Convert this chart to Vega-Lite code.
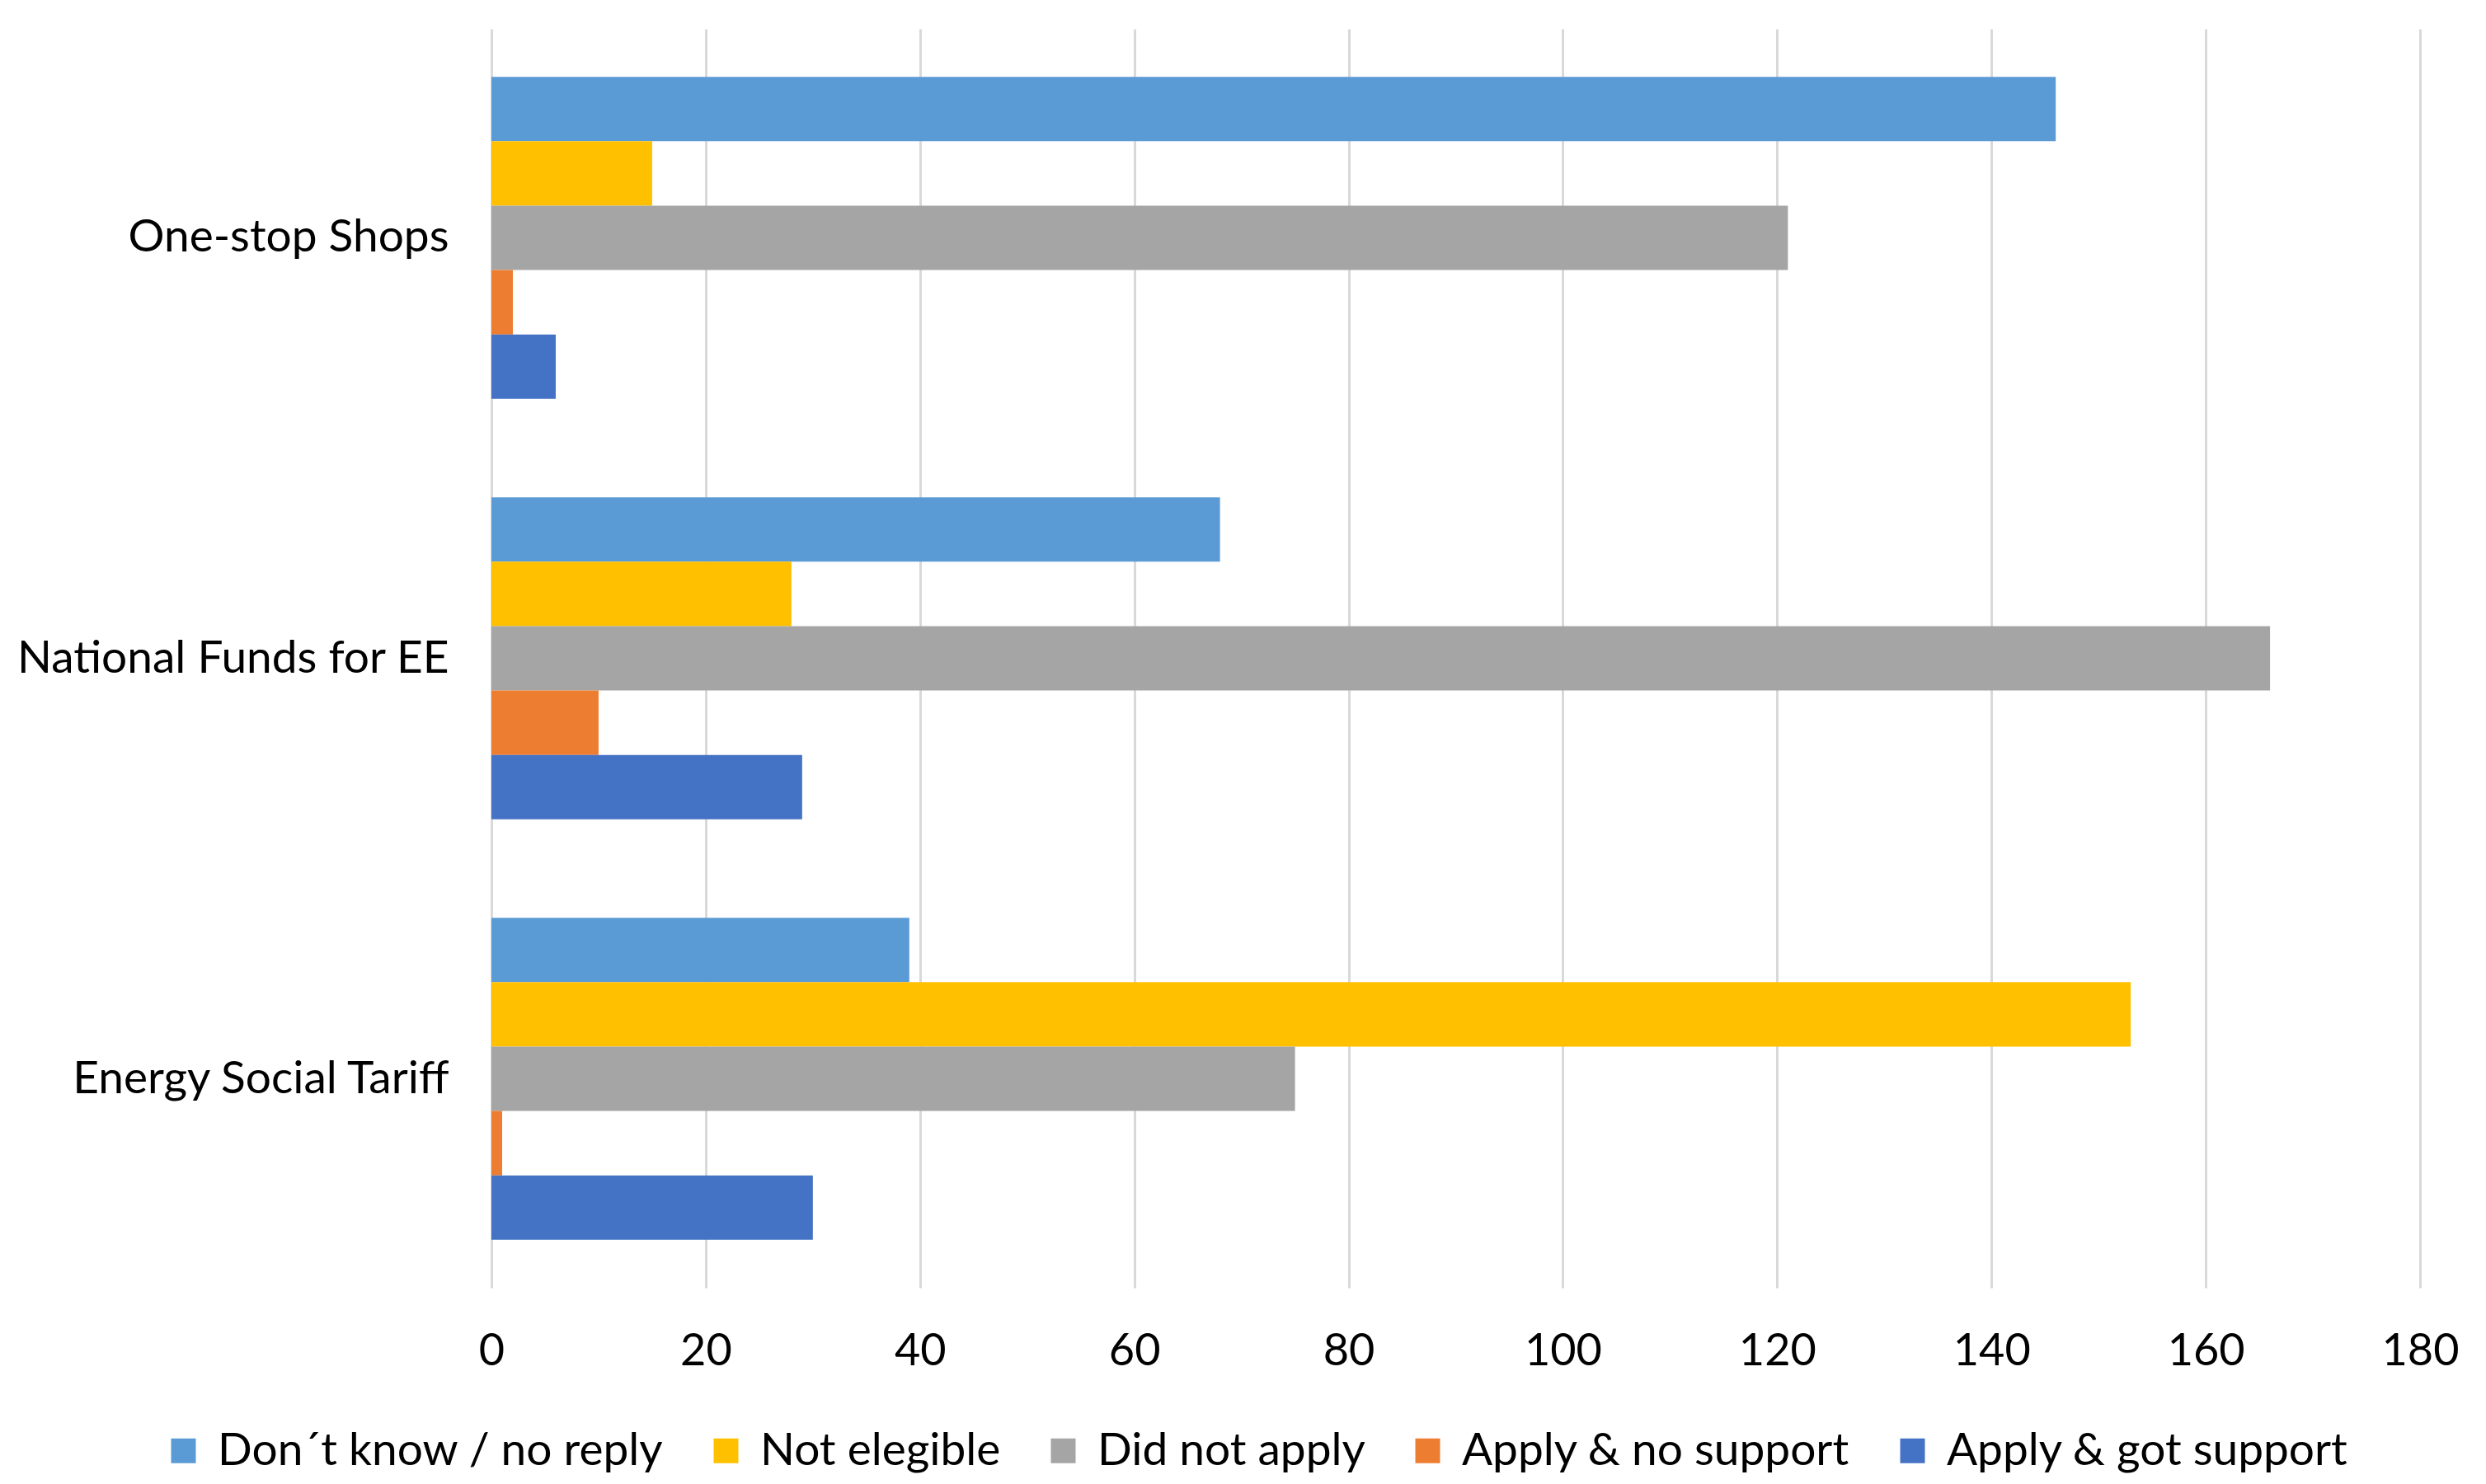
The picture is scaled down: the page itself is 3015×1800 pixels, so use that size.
{
  "$schema": "https://vega.github.io/schema/vega-lite/v6.json",
  "autosize": {"type": "none"},
  "width": 2339,
  "height": 1527,
  "padding": {"left": 596, "top": 35, "right": 80, "bottom": 238},
  "background": "white",
  "config": {
    "view": {"stroke": null},
    "font": "Lato",
    "axis": {"labelFont": "Lato", "labelColor": "#000000"},
    "legend": {"labelFont": "Lato", "labelColor": "#000000"}
  },
  "data": {
    "values": [
      {"program": "One-stop Shops", "series": "Don´t know / no reply", "value": 146},
      {"program": "One-stop Shops", "series": "Not elegible", "value": 15},
      {"program": "One-stop Shops", "series": "Did not apply", "value": 121},
      {"program": "One-stop Shops", "series": "Apply & no support", "value": 2},
      {"program": "One-stop Shops", "series": "Apply & got support", "value": 6},
      {"program": "National Funds for EE", "series": "Don´t know / no reply", "value": 68},
      {"program": "National Funds for EE", "series": "Not elegible", "value": 28},
      {"program": "National Funds for EE", "series": "Did not apply", "value": 166},
      {"program": "National Funds for EE", "series": "Apply & no support", "value": 10},
      {"program": "National Funds for EE", "series": "Apply & got support", "value": 29},
      {"program": "Energy Social Tariff", "series": "Don´t know / no reply", "value": 39},
      {"program": "Energy Social Tariff", "series": "Not elegible", "value": 153},
      {"program": "Energy Social Tariff", "series": "Did not apply", "value": 75},
      {"program": "Energy Social Tariff", "series": "Apply & no support", "value": 1},
      {"program": "Energy Social Tariff", "series": "Apply & got support", "value": 30}
    ]
  },
  "mark": {"type": "bar"},
  "encoding": {
    "y": {
      "field": "program",
      "type": "nominal",
      "sort": ["One-stop Shops", "National Funds for EE", "Energy Social Tariff"],
      "scale": {"paddingInner": 0.234, "paddingOuter": 0.114},
      "axis": {
        "title": null,
        "ticks": false,
        "domain": false,
        "grid": false,
        "labelFontSize": 55,
        "labelPadding": 52,
        "labelLimit": 800
      }
    },
    "yOffset": {
      "field": "series",
      "type": "nominal",
      "sort": ["Don´t know / no reply", "Not elegible", "Did not apply", "Apply & no support", "Apply & got support"],
      "scale": {"paddingInner": 0, "paddingOuter": 0}
    },
    "x": {
      "field": "value",
      "type": "quantitative",
      "scale": {"domain": [0, 180], "nice": false},
      "axis": {
        "title": null,
        "values": [0, 20, 40, 60, 80, 100, 120, 140, 160, 180],
        "ticks": false,
        "domain": false,
        "grid": true,
        "gridColor": "#D9D9D9",
        "gridWidth": 3,
        "labelFontSize": 54,
        "labelPadding": 50,
        "labelFlush": false
      }
    },
    "color": {
      "field": "series",
      "type": "nominal",
      "scale": {
        "domain": ["Don´t know / no reply", "Not elegible", "Did not apply", "Apply & no support", "Apply & got support"],
        "range": ["#5B9BD5", "#FFC000", "#A5A5A5", "#ED7D31", "#4472C4"]
      },
      "legend": {
        "title": null,
        "orient": "none",
        "direction": "horizontal",
        "legendX": -401,
        "legendY": 1697,
        "symbolType": "square",
        "symbolSize": 900,
        "symbolStrokeWidth": 0,
        "labelFontSize": 55,
        "labelOffset": 14,
        "columnPadding": 48,
        "labelLimit": 800
      }
    }
  }
}
